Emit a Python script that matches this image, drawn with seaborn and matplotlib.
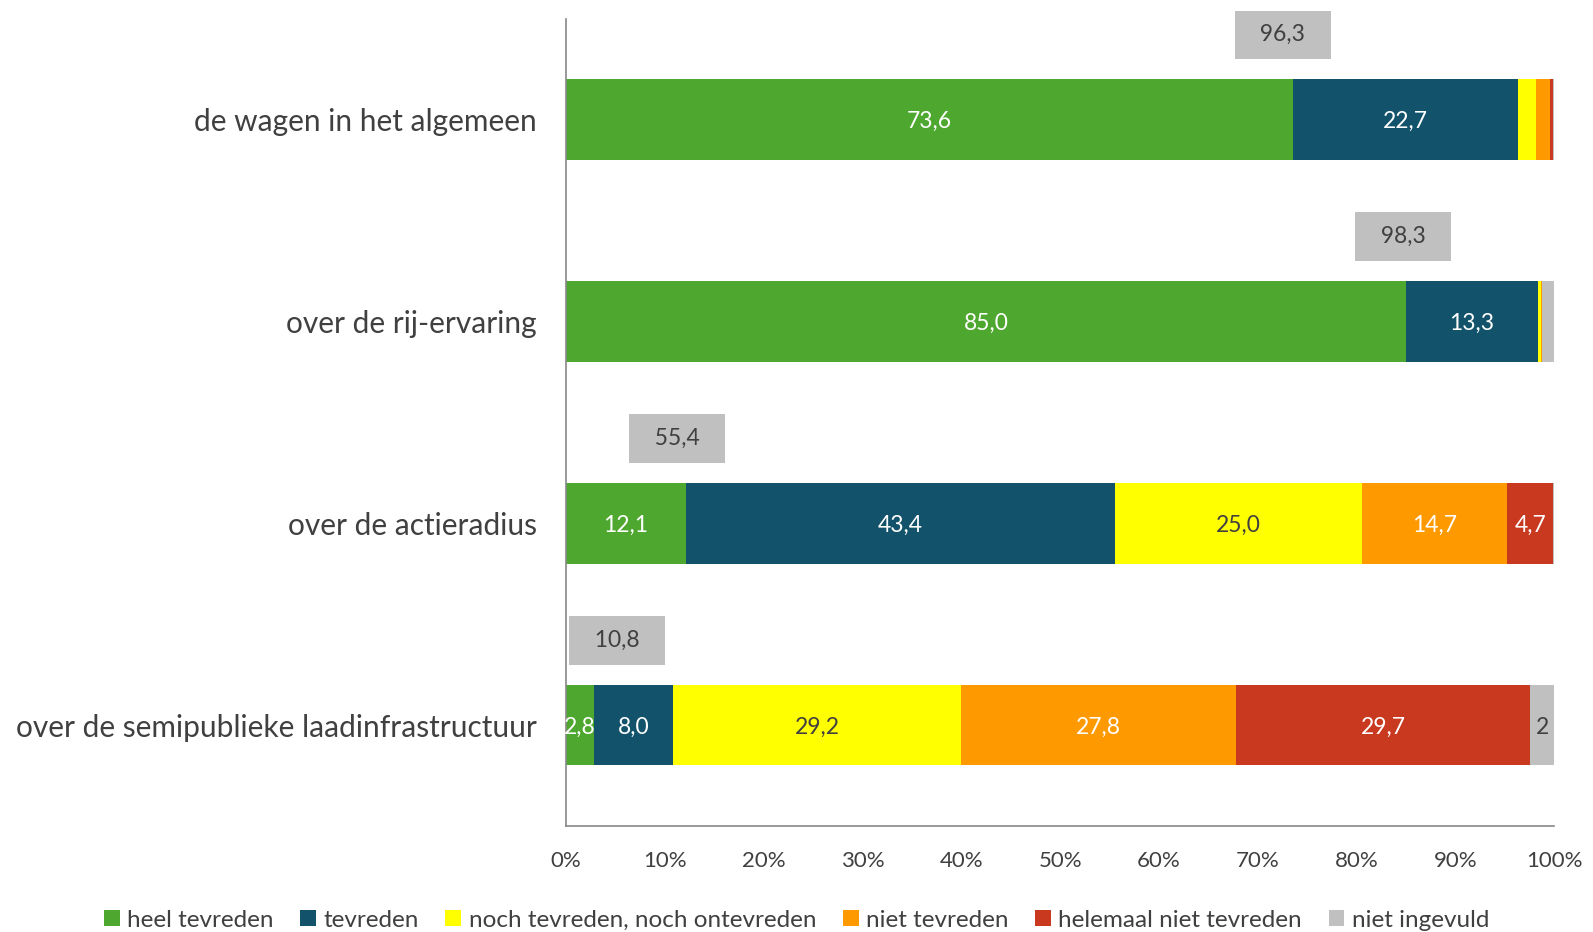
import numpy as np
import pandas as pd
import seaborn as sns
import matplotlib.pyplot as plt
from matplotlib.patches import Patch

categories = ["de wagen in het algemeen", "over de rij-ervaring",
              "over de actieradius", "over de semipublieke laadinfrastructuur"]
series = ["heel tevreden", "tevreden", "noch tevreden, noch ontevreden",
          "niet tevreden", "helemaal niet tevreden", "niet ingevuld"]
heel_tevreden = [73.6, 85.0, 12.1, 2.8]
tevreden = [22.7, 13.3, 43.4, 8.0]
noch = [1.8, 0.3, 25.0, 29.2]
niet_tevreden = [1.4, 0.1, 14.7, 27.8]
helemaal_niet = [0.4, 0.0, 4.7, 29.7]
niet_ingevuld = [0.1, 1.3, 0.2, 2.5]
seg_labels = [
    ["73,6", "85,0", "12,1", "2,8"],
    ["22,7", "13,3", "43,4", "8,0"],
    ["", "", "25,0", "29,2"],
    ["", "", "14,7", "27,8"],
    ["", "", "4,7", "29,7"],
    ["", "", "", "2"],
]
totals = ["96,3", "98,3", "55,4", "10,8"]
total_x = [72.5, 84.7, 11.25, 5.2]
xticks = [0, 10, 20, 30, 40, 50, 60, 70, 80, 90, 100]

colors = ["#4ea72e", "#12536b", "#ffff00", "#ff9900", "#c9391f", "#c0c0c0"]
text_colors = ["white", "white", "#404040", "white", "white", "#404040"]

values = [heel_tevreden, tevreden, noch, niet_tevreden, helemaal_niet, niet_ingevuld]
rows = []
for s, vals in zip(series, values):
    for i, v in enumerate(vals):
        rows.append({"pos": i, "serie": s, "pct": v})
df = pd.DataFrame(rows)

sns.set_style("white")
plt.rcParams["font.family"] = ["Lato", "DejaVu Sans"]

fig = plt.figure(figsize=(15.93, 9.32), dpi=100)
ax = fig.add_axes([0.3553, 0.1137, 0.6205, 0.8663])

# histplot stacks the last hue level first, so pass the order reversed
sns.histplot(data=df, y="pos", hue="serie", weights="pct", multiple="stack",
             discrete=True, shrink=0.4, hue_order=series[::-1], palette=colors[::-1],
             linewidth=0, alpha=1, legend=False, ax=ax)

# labels in segments
cum = np.zeros(len(categories))
for k, vals in enumerate(values):
    for i, v in enumerate(vals):
        if seg_labels[k][i]:
            ax.text(cum[i] + v / 2, i + 0.01, seg_labels[k][i], ha="center", va="center",
                    color=text_colors[k], fontsize=16.5)
    cum += np.array(vals)

# totals (heel tevreden + tevreden)
for i, t in enumerate(totals):
    ax.text(total_x[i], i - 0.42, "  " + t + "  ", ha="center", va="center",
            fontsize=16.5, color="#404040",
            bbox=dict(boxstyle="square,pad=0.6", fc="#c0c0c0", ec="none"))

ax.set_xlim(0, 100)
ax.set_ylim(3.5, -0.5)
ax.set_xticks(xticks)
ax.set_xticklabels([f"{x}%" for x in xticks], fontsize=16, color="#404040")
ax.set_yticks(range(len(categories)))
ax.set_yticklabels(categories, fontsize=21.5, color="#404040")
ax.set_yticks(np.arange(-0.5, 4, 1), minor=True)
ax.tick_params(axis="y", which="major", length=0, pad=21)
ax.tick_params(axis="y", which="minor", length=10, width=1, color="#888888", direction="out")
ax.tick_params(axis="x", length=0, pad=18)
ax.set_xlabel("")
ax.set_ylabel("")
for side in ["top", "right"]:
    ax.spines[side].set_visible(False)
for side in ["left", "bottom"]:
    ax.spines[side].set_color("#888888")
    ax.spines[side].set_linewidth(1.2)

handles = [Patch(facecolor=c, edgecolor="none") for c in colors]
fig.legend(handles, series, loc="lower center", bbox_to_anchor=(0.5, -0.022),
           ncol=6, frameon=False, fontsize=17.5, labelcolor="#404040",
           handlelength=0.65, handleheight=0.65, handletextpad=0.3, columnspacing=1.1)

fig.savefig("out.png", dpi=100)
